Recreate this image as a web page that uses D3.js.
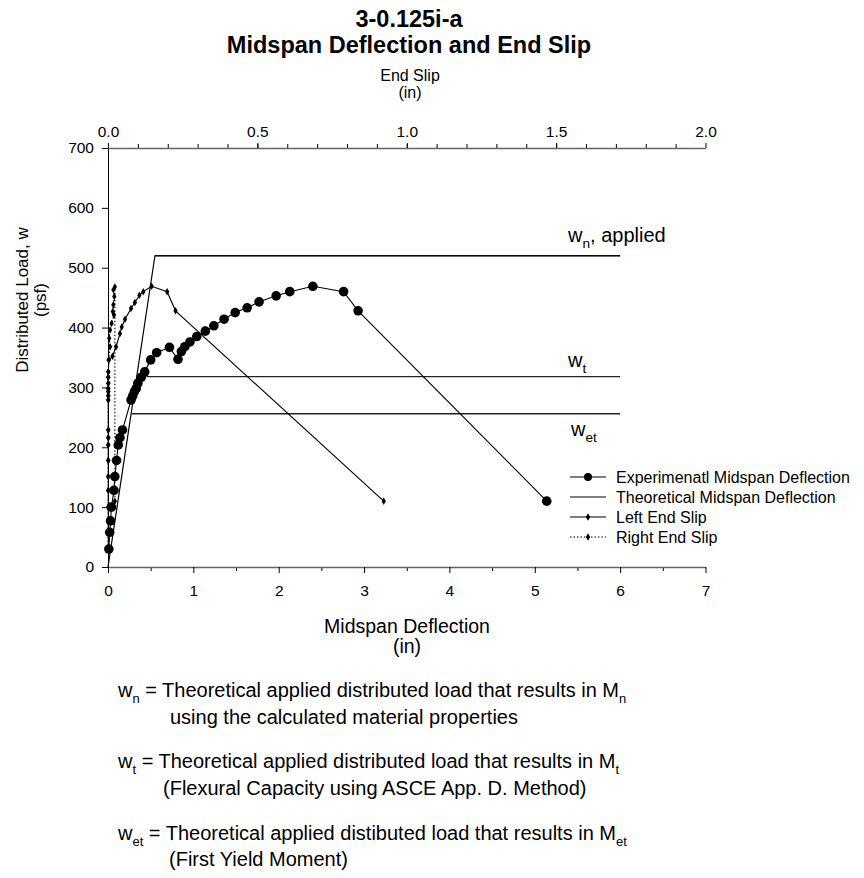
<!DOCTYPE html>
<html>
<head>
<meta charset="utf-8">
<script src="https://cdn.jsdelivr.net/npm/d3@7"></script>
<style>
  body { margin: 0; background: #fff; }
  svg { display: block; }
  text { font-family: "Liberation Sans", Arial, sans-serif; fill: #000; }
</style>
</head>
<body>
<svg id="chart" width="864" height="878"></svg>
<script>
// Experimental midspan deflection (in) vs distributed load (psf)
const expDeflection = [0.01, 0.02, 0.03, 0.04, 0.07, 0.08, 0.10, 0.12, 0.14, 0.17, 0.27, 0.29, 0.31, 0.33, 0.35, 0.39, 0.43, 0.50, 0.57, 0.72, 0.82, 0.86, 0.90, 0.96, 1.04, 1.14, 1.24, 1.36, 1.49, 1.63, 1.77, 1.97, 2.13, 2.40, 2.76, 2.93, 5.14];
const expLoad       = [30, 58, 77, 100, 128, 151, 178, 204, 216, 229, 279, 286, 293, 298, 307, 317, 326, 346, 358, 367, 347, 360, 368, 376, 385, 394, 403, 414, 425, 433, 443, 453, 460, 469, 460, 428, 110];

// Theoretical midspan deflection
const theoryDeflection = [0, 0.55, 6.0];
const theoryLoad       = [0, 520, 520];

// Left end slip (in)
const leftSlip = [0.001, 0.001, 0.001, 0.001, 0.001, 0.001, 0.001, 0.001, 0.001, 0.001, 0.001, 0.001, 0.001, 0.001, 0.001, 0.001, 0.001, 0.003, 0.015, 0.027, 0.040, 0.046, 0.057, 0.077, 0.090, 0.105, 0.118, 0.146, 0.198, 0.226, 0.923];
const leftLoad = [30, 58, 77, 100, 128, 151, 178, 204, 216, 229, 279, 286, 293, 298, 307, 317, 326, 346, 352, 368, 390, 401, 414, 432, 442, 454, 460, 469, 460, 428, 110];

// Right end slip (in)
const rightSlip = [0.001, 0.001, 0.001, 0.001, 0.001, 0.001, 0.001, 0.001, 0.001, 0.001, 0.001, 0.001, 0.001, 0.001, 0.001, 0.001, 0.001, 0.002, 0.007, 0.004, 0.007, 0.012, 0.020, 0.016, 0.018, 0.021, 0.018, 0.023, 0.023];
const rightLoad = [30, 58, 77, 100, 128, 151, 178, 204, 216, 229, 279, 286, 293, 298, 307, 317, 326, 346, 368, 382, 396, 407, 421, 427, 438, 452, 463, 468, 110];

// Theoretical load levels and where each line starts (midspan deflection, in)
const refNames  = ["n", "t", "et"];
const refLoads  = [520, 318, 256];
const refStarts = [0.55, 0.45, 0.28];
const refEnd    = 6.0;

// Axis ticks
const bottomTicks = [0, 1, 2, 3, 4, 5, 6, 7];
const topTicks    = [0, 0.5, 1.0, 1.5, 2.0];
const leftTicks   = [0, 100, 200, 300, 400, 500, 600, 700];

const legendLabels = ["Experimenatl Midspan Deflection", "Theoretical Midspan Deflection", "Left End Slip", "Right End Slip"];

const svg = d3.select("#chart");

const x = d3.scaleLinear().domain([0, 7]).range([108, 705.5]);
const xTop = d3.scaleLinear().domain([0, 2]).range([108, 705.5]);
const y = d3.scaleLinear().domain([0, 700]).range([567, 148]);

// ---- Titles ----
const title = svg.append("text").attr("text-anchor", "middle")
  .style("font-weight", "bold").style("font-size", "23.5px");
title.append("tspan").attr("x", 409).attr("y", 27).text("3-0.125i-a");
title.append("tspan").attr("x", 409).attr("y", 53).text("Midspan Deflection and End Slip");

const topTitle = svg.append("text").attr("text-anchor", "middle").style("font-size", "16px");
topTitle.append("tspan").attr("x", 410).attr("y", 81).text("End Slip");
topTitle.append("tspan").attr("x", 410).attr("y", 98).text("(in)");

// ---- Axes ----
function styleAxis(g, fontSize) {
  g.selectAll("text").style("font-size", fontSize).style("font-family", "'Liberation Sans', Arial, sans-serif");
  g.selectAll("line").attr("stroke", "#000");
}

// bottom: minor half-unit ticks, then labelled integer ticks
svg.append("g").attr("transform", "translate(0,567)")
  .call(d3.axisBottom(x).tickValues(d3.range(0.5, 7, 1)).tickSize(4).tickFormat("").tickSizeOuter(0))
  .call(g => g.select(".domain").remove())
  .call(g => g.selectAll("line").attr("stroke", "#000"));
const bottomAxis = svg.append("g").attr("transform", "translate(0,567)")
  .call(d3.axisBottom(x).tickValues(bottomTicks).tickSize(6).tickPadding(12).tickSizeOuter(0).tickFormat(d3.format("d")));
styleAxis(bottomAxis, "15.5px");
bottomAxis.select(".domain").attr("stroke", "#666").attr("stroke-width", 1.5);

// top: minor 0.1 ticks, labelled 0.5 ticks
svg.append("g").attr("transform", "translate(0,148)")
  .call(d3.axisTop(xTop).tickValues(d3.range(0.1, 2, 0.1)).tickSize(4).tickFormat("").tickSizeOuter(0))
  .call(g => g.select(".domain").remove())
  .call(g => g.selectAll("line").attr("stroke", "#000"));
const topAxis = svg.append("g").attr("transform", "translate(0,148)")
  .call(d3.axisTop(xTop).tickValues(topTicks).tickSize(5).tickPadding(6).tickSizeOuter(0).tickFormat(d3.format(".1f")));
styleAxis(topAxis, "15.5px");
topAxis.select(".domain").attr("stroke", "#666").attr("stroke-width", 1.5);

// left
const leftAxis = svg.append("g").attr("transform", "translate(108,0)")
  .call(d3.axisLeft(y).tickValues(leftTicks).tickSize(6).tickPadding(8).tickSizeOuter(0));
styleAxis(leftAxis, "15.5px");
leftAxis.select(".domain").attr("stroke", "#000").attr("stroke-width", 1);

// y axis title
const yTitle = svg.append("text").attr("text-anchor", "middle").style("font-size", "17px")
  .attr("transform", "translate(28,300) rotate(-90)");
yTitle.append("tspan").attr("x", 0).attr("y", 0).text("Distributed Load, w");
yTitle.append("tspan").attr("x", 0).attr("y", 18).text("(psf)");

// bottom axis title
const xTitle = svg.append("text").attr("text-anchor", "middle").style("font-size", "19.5px");
xTitle.append("tspan").attr("x", 407).attr("y", 633).text("Midspan Deflection");
xTitle.append("tspan").attr("x", 407).attr("y", 653).text("(in)");

// ---- Theoretical load levels ----
const refData = refNames.map((n, i) => ({ name: n, load: refLoads[i], start: refStarts[i] }));
svg.append("g").selectAll("line").data(refData).join("line")
  .attr("x1", d => x(d.start)).attr("x2", x(refEnd))
  .attr("y1", d => y(d.load)).attr("y2", d => y(d.load))
  .attr("stroke", "#222").attr("stroke-width", 1.3);

function subLabel(xp, yp, main, sub, rest, size) {
  const t = svg.append("text").attr("x", xp).attr("y", yp).style("font-size", size + "px");
  t.append("tspan").text(main);
  t.append("tspan").attr("dy", size * 0.3).style("font-size", (size * 0.68) + "px").text(sub);
  if (rest) t.append("tspan").attr("dy", -size * 0.3).text(rest);
  return t;
}
subLabel(568, 242, "w", "n", ", applied", 20);
subLabel(568, 367, "w", "t", null, 20);
subLabel(571, 436, "w", "et", null, 20);

// ---- Series ----
const lineGen = d3.line().x(d => x(d[0])).y(d => y(d[1]));
const slipLine = d3.line().x(d => xTop(d[0])).y(d => y(d[1]));

const theory = theoryDeflection.map((d, i) => [d, theoryLoad[i]]);
svg.append("path").datum(theory).attr("d", lineGen)
  .attr("fill", "none").attr("stroke", "#000").attr("stroke-width", 1.2);

const left = leftSlip.map((d, i) => [d, leftLoad[i]]);
svg.append("path").datum(left).attr("d", slipLine)
  .attr("fill", "none").attr("stroke", "#000").attr("stroke-width", 1.1);
const diamond = d3.symbol().type(d3.symbolDiamond).size(16);
svg.append("g").selectAll("path").data(left).join("path")
  .attr("transform", d => `translate(${xTop(d[0])},${y(d[1])})`)
  .attr("d", diamond).attr("fill", "#000");

const right = rightSlip.map((d, i) => [d, rightLoad[i]]);
svg.append("path").datum(right).attr("d", slipLine)
  .attr("fill", "none").attr("stroke", "#000").attr("stroke-width", 1.1)
  .attr("stroke-dasharray", "1.5,2");
svg.append("g").selectAll("path").data(right).join("path")
  .attr("transform", d => `translate(${xTop(d[0])},${y(d[1])})`)
  .attr("d", diamond).attr("fill", "#000");

const exp = expDeflection.map((d, i) => [d, expLoad[i]]);
svg.append("path").datum(exp).attr("d", lineGen)
  .attr("fill", "none").attr("stroke", "#000").attr("stroke-width", 1.1);
svg.append("g").selectAll("circle").data(exp).join("circle")
  .attr("cx", d => x(d[0])).attr("cy", d => y(d[1])).attr("r", 4.8).attr("fill", "#000");

// ---- Legend ----
const legend = svg.append("g");
const rows = legend.selectAll("g").data(legendLabels).join("g")
  .attr("transform", (d, i) => `translate(570,${477 + i * 20})`);
rows.append("line").attr("x1", 0).attr("x2", 36).attr("y1", 0).attr("y2", 0)
  .attr("stroke", "#000").attr("stroke-width", 1.1)
  .attr("stroke-dasharray", (d, i) => i === 3 ? "1.5,2" : null);
rows.filter((d, i) => i === 0).append("circle").attr("cx", 18).attr("r", 4).attr("fill", "#000");
rows.filter((d, i) => i >= 2).append("path").attr("transform", "translate(18,0)").attr("d", diamond).attr("fill", "#000");
rows.append("text").attr("x", 46).attr("y", 5.5).style("font-size", "16px").text(d => d);

// ---- Definitions below the chart ----
function defLine(yp, sub, body, msub) {
  const t = svg.append("text").attr("x", 118).attr("y", yp).style("font-size", "20px");
  t.append("tspan").text("w");
  t.append("tspan").attr("dy", 6).style("font-size", "13px").text(sub);
  t.append("tspan").attr("dy", -6).text(" = " + body + " M");
  t.append("tspan").attr("dy", 6).style("font-size", "13px").text(msub);
}
function plainLine(xp, yp, body) {
  svg.append("text").attr("x", xp).attr("y", yp).style("font-size", "20px").text(body);
}
defLine(697, "n", "Theoretical applied distributed load that results in", "n");
plainLine(170, 724, "using the calculated material properties");
defLine(768, "t", "Theoretical applied distributed load that results in", "t");
plainLine(163, 795, "(Flexural Capacity using ASCE App. D. Method)");
defLine(840, "et", "Theoretical applied distibuted load that results in", "et");
plainLine(169, 866, "(First Yield Moment)");
</script>
</body>
</html>
